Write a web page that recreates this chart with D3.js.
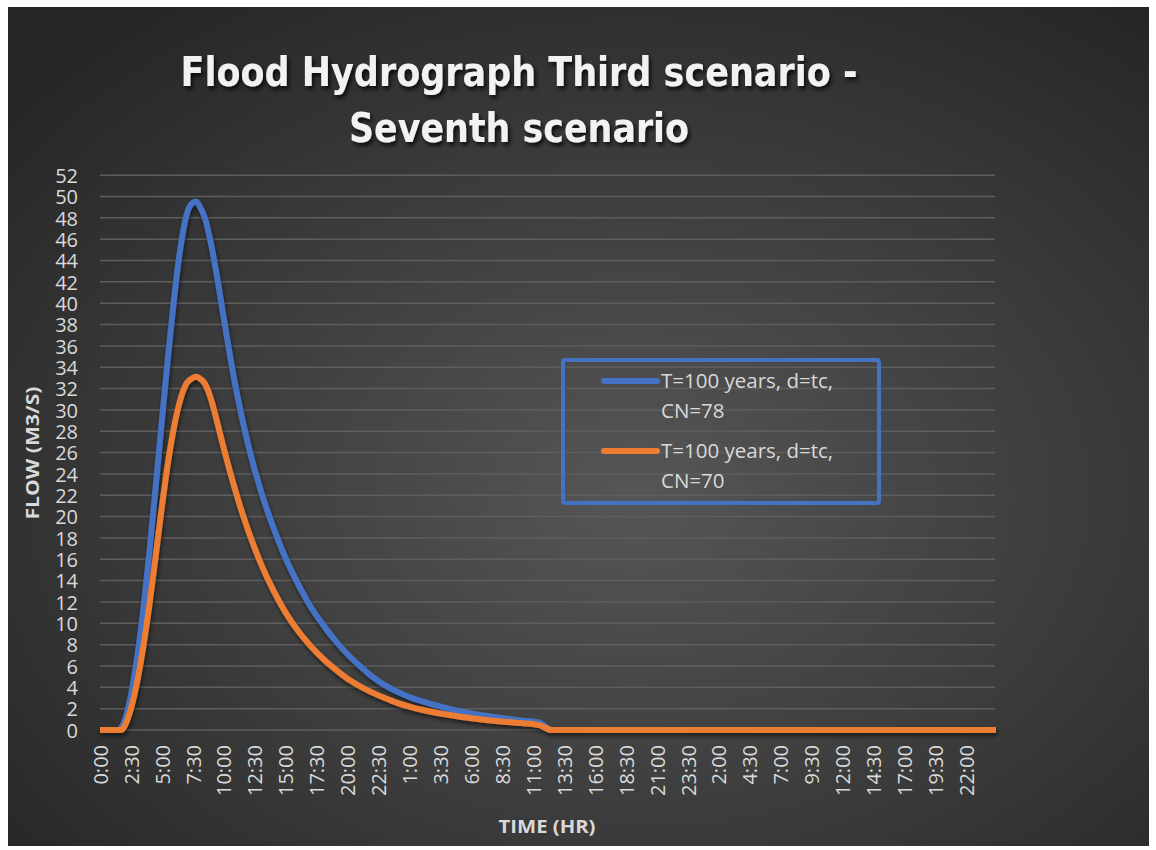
<!DOCTYPE html>
<html>
<head>
<meta charset="utf-8">
<script src="https://cdn.jsdelivr.net/npm/d3@7"></script>
<style>
  html, body { margin: 0; padding: 0; background: #fff; }
  svg { display: block; }
</style>
</head>
<body>
<svg id="chart" width="1156" height="850"></svg>
<script>
// time in hours from the start of the event
const hours = [0, 1.5, 1.75, 2, 2.5, 3, 3.5, 4, 4.5, 5, 5.5, 6, 6.5, 7, 7.5, 7.8, 8, 8.5, 9, 9.5, 10,
    11, 12, 13, 14, 15, 16, 17, 18, 19, 20, 21, 22, 23, 24, 25, 26, 28, 30, 32, 34, 35.5, 36.5, 72.4];

const flowCN78 = [0, 0, 0.3, 0.9, 3.3, 6.8, 11.3, 16.8, 22.8, 29.0, 35.0, 40.6, 45.2, 48.3, 49.4, 49.5, 49.2, 47.9, 45.4, 42.2, 38.6,
    31.9, 26.6, 22.4, 19.0, 16.1, 13.7, 11.6, 9.9, 8.4, 7.1, 6.0, 5.0, 4.2, 3.6, 3.1, 2.7, 2.05, 1.55, 1.2, 0.9, 0.7, 0, 0];

const flowCN70 = [0, 0, 0, 0.4, 2.0, 4.5, 7.8, 11.8, 16.3, 20.9, 25.1, 28.5, 31.0, 32.5, 33.0, 33.1, 33.0, 32.4, 30.9, 28.7, 26.4,
    22.2, 18.6, 15.6, 13.1, 11.0, 9.3, 7.9, 6.7, 5.7, 4.8, 4.1, 3.5, 3.0, 2.55, 2.2, 1.9, 1.45, 1.1, 0.85, 0.65, 0.45, 0, 0];

const seriesNames = ["T=100 years, d=tc,|CN=78", "T=100 years, d=tc,|CN=70"];
const seriesColors = ["#4472C4", "#ED7D31"];

const xTicks = d3.range(0, 70.01, 2.5);
const yTicks = d3.range(0, 53, 2);

const titleLines = ["Flood Hydrograph Third scenario -", "Seventh scenario"];
const xTitle = "TIME (HR)";
const yTitle = "FLOW (M3/S)";

const margin = { left: 100, top: 175 };
const labelFont = "'Open Sans', 'DejaVu Sans', sans-serif";
const labelColor = "#d9d9d9";

const svg = d3.select("#chart");
const defs = svg.append("defs");

const grad = defs.append("radialGradient")
    .attr("id", "bg")
    .attr("cx", "55%").attr("cy", "58%").attr("r", "72%");
grad.append("stop").attr("offset", "0%").attr("stop-color", "#565656");
grad.append("stop").attr("offset", "100%").attr("stop-color", "#262626");

defs.append("filter").attr("id", "titleShadow")
    .attr("x", "-10%").attr("y", "-30%").attr("width", "120%").attr("height", "160%")
    .append("feDropShadow")
    .attr("dx", 2).attr("dy", 3).attr("stdDeviation", 2)
    .attr("flood-color", "#000").attr("flood-opacity", 0.8);

defs.append("filter").attr("id", "lineShadow")
    .attr("x", "-5%").attr("y", "-5%").attr("width", "110%").attr("height", "115%")
    .append("feDropShadow")
    .attr("dx", 1).attr("dy", 3).attr("stdDeviation", 2)
    .attr("flood-color", "#000").attr("flood-opacity", 0.55);

// chart area background
svg.append("rect")
    .attr("x", 8).attr("y", 7)
    .attr("width", 1141).attr("height", 839)
    .attr("fill", "url(#bg)");

const xscale = d3.scaleLinear()
    .domain([0, 72.4])
    .range([margin.left, 996]);

const yscale = d3.scaleLinear()
    .domain([0, 52])
    .range([730, 730 - 52 * 10.67]);

// horizontal gridlines
svg.append("g")
    .selectAll("line")
    .data(yTicks)
    .join("line")
    .attr("x1", xscale(0))
    .attr("x2", 995)
    .attr("y1", d => yscale(d))
    .attr("y2", d => yscale(d))
    .attr("stroke", "#5e5e5e")
    .attr("stroke-width", 1.5);

const fmtTime = t => {
    const m = Math.round(t * 60) % (24 * 60);
    return `${Math.floor(m / 60)}:${String(m % 60).padStart(2, "0")}`;
};

const xAxis = svg.append("g")
    .attr("transform", `translate(0, ${yscale(0)})`)
    .call(d3.axisBottom(xscale).tickValues(xTicks).tickSize(0).tickFormat(fmtTime));
xAxis.select(".domain").remove();
xAxis.selectAll("text")
    .attr("transform", "rotate(-90)")
    .attr("text-anchor", "end")
    .attr("x", -15)
    .attr("y", 0)
    .attr("dy", "0.36em")
    .attr("fill", labelColor)
    .attr("font-family", labelFont)
    .attr("font-size", 20);

const yAxis = svg.append("g")
    .attr("transform", "translate(78, 0)")
    .call(d3.axisLeft(yscale).tickValues(yTicks).tickSize(0));
yAxis.select(".domain").remove();
yAxis.selectAll("text")
    .attr("x", 0)
    .attr("dy", "0.36em")
    .attr("fill", labelColor)
    .attr("font-family", labelFont)
    .attr("font-size", 20);

// series
const line = d3.line()
    .x((d, i) => xscale(hours[i]))
    .y(d => yscale(d))
    .curve(d3.curveMonotoneX);

svg.append("g")
    .attr("fill", "none")
    .attr("stroke-width", 6)
    .attr("stroke-linejoin", "round")
    .attr("filter", "url(#lineShadow)")
    .selectAll("path")
    .data([flowCN78, flowCN70])
    .join("path")
    .attr("stroke", (d, i) => seriesColors[i])
    .attr("d", d => line(d));

// titles
svg.append("g")
    .attr("filter", "url(#titleShadow)")
    .selectAll("text")
    .data(titleLines)
    .join("text")
    .attr("x", 519)
    .attr("y", (d, i) => 86 + i * 56)
    .attr("text-anchor", "middle")
    .attr("font-family", "'Liberation Sans Narrow', 'DejaVu Sans Condensed', sans-serif")
    .attr("font-weight", "bold")
    .attr("font-size", 40)
    .attr("textLength", (d, i) => i == 0 ? 677 : 340)
    .attr("lengthAdjust", "spacingAndGlyphs")
    .attr("fill", "#f2f2f2")
    .text(d => d);

svg.append("text")
    .attr("x", 547)
    .attr("y", 833)
    .attr("text-anchor", "middle")
    .attr("font-family", labelFont)
    .attr("font-weight", "bold")
    .attr("font-size", 18)
    .attr("textLength", 97)
    .attr("lengthAdjust", "spacingAndGlyphs")
    .attr("fill", labelColor)
    .text(xTitle);

svg.append("text")
    .attr("transform", "translate(39, 453) rotate(-90)")
    .attr("text-anchor", "middle")
    .attr("font-family", labelFont)
    .attr("font-weight", "bold")
    .attr("font-size", 18)
    .attr("textLength", 133)
    .attr("lengthAdjust", "spacingAndGlyphs")
    .attr("fill", labelColor)
    .text(yTitle);

// legend
const legend = svg.append("g");
legend.append("rect")
    .attr("x", 563).attr("y", 360)
    .attr("width", 316).attr("height", 143)
    .attr("rx", 2)
    .attr("fill", "none")
    .attr("stroke", "#4472C4")
    .attr("stroke-width", 4);

const items = legend.selectAll("g.item")
    .data(seriesNames)
    .join("g")
    .attr("class", "item")
    .attr("transform", (d, i) => `translate(0, ${381 + i * 70})`);

items.append("line")
    .attr("x1", 604).attr("x2", 657)
    .attr("stroke", (d, i) => seriesColors[i])
    .attr("stroke-width", 6)
    .attr("stroke-linecap", "round");

items.append("text")
    .attr("font-family", labelFont)
    .attr("font-size", 20.5)
    .attr("fill", labelColor)
    .selectAll("tspan")
    .data(d => d.split("|"))
    .join("tspan")
    .attr("x", 661)
    .attr("y", (d, i) => i * 30)
    .attr("dy", "0.36em")
    .text(d => d);
</script>
</body>
</html>
